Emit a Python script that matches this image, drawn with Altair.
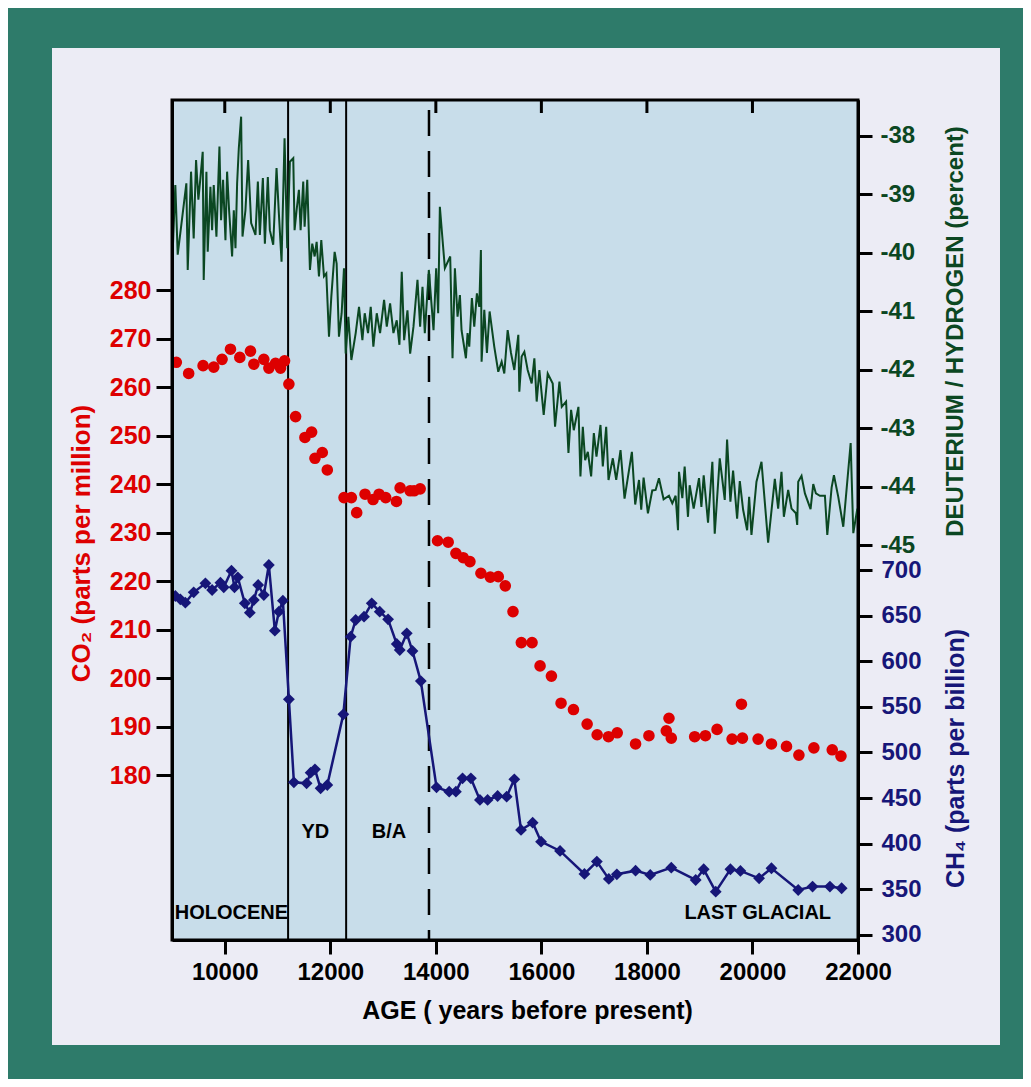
import altair as alt
import pandas as pd

# ---------------- data ----------------
deut_years = [9019, 9063, 9108, 9272, 9298, 9361, 9411, 9456, 9500, 9538, 9582, 9601, 9652, 9677, 9728, 9760,
              9791, 9842, 9899, 9930, 9968, 10013, 10044, 10082, 10139, 10171, 10203, 10234, 10266, 10310, 10336,
              10392, 10443, 10500, 10582, 10627, 10665, 10722, 10760, 10816, 10854, 10918, 10981, 11025, 11076,
              11133, 11184, 11234, 11298, 11323, 11361, 11405, 11437, 11487, 11513, 11563, 11614, 11658, 11703,
              11741, 11785, 11829, 11880, 11924, 11975, 12019, 12082, 12120, 12164, 12215, 12259, 12291, 12342,
              12399, 12481, 12544, 12608, 12652, 12715, 12766, 12816, 12880, 12943, 13019, 13070, 13133, 13196,
              13259, 13310, 13354, 13399, 13462, 13513, 13576, 13652, 13702, 13747, 13791, 13867, 13956, 14006,
              14044, 14076, 14171, 14272, 14316, 14361, 14411, 14456, 14487, 14570, 14601, 14633, 14683, 14728,
              14778, 14823, 14854, 14867, 14918, 14968, 15019, 15107, 15183, 15247, 15297, 15361, 15424, 15487,
              15525, 15563, 15582, 15626, 15677, 15740, 15816, 15867, 15911, 15962, 16044, 16120, 16215, 16259,
              16342, 16386, 16468, 16513, 16563, 16614, 16702, 16740, 16785, 16829, 16880, 16943, 16994, 17044,
              17120, 17164, 17228, 17272, 17354, 17418, 17500, 17576, 17715, 17778, 17850, 17892, 17937, 18019,
              18101, 18165, 18228, 18316, 18418, 18481, 18544, 18589, 18608, 18671, 18715, 18778, 18810, 18886,
              18987, 19032, 19076, 19158, 19240, 19285, 19380, 19475, 19519, 19582, 19633, 19709, 19760, 19823,
              19899, 19937, 19981, 20076, 20171, 20297, 20424, 20487, 20550, 20595, 20677, 20740, 20823, 20848,
              20867, 20930, 20994, 21101, 21152, 21202, 21278, 21373, 21418, 21500, 21544, 21626, 21721, 21861,
              21911, 21987]
deut_values = [-39.84, -38.84, -40.03, -38.81, -40.29, -38.61, -39.75, -38.41, -39.09, -38.72, -38.27, -40.46,
               -38.61, -39.98, -38.87, -39.61, -38.84, -39.72, -38.18, -39.44, -38.75, -39.78, -38.61, -39.27,
               -40.06, -39.27, -39.92, -38.81, -38.21, -37.67, -39.72, -39.27, -38.41, -39.49, -39.69, -38.78,
               -39.69, -38.72, -39.84, -38.70, -39.61, -39.86, -38.55, -39.32, -40.15, -38.04, -39.92, -38.44,
               -38.38, -39.61, -39.27, -38.92, -39.61, -38.78, -39.55, -38.75, -40.29, -39.84, -40.06, -39.81,
               -40.40, -39.78, -40.40, -40.35, -41.43, -40.75, -39.98, -40.18, -41.43, -41.03, -40.26, -41.72,
               -41.09, -41.83, -41.37, -40.92, -41.49, -41.03, -41.37, -40.92, -41.60, -41.03, -41.37, -40.80,
               -41.26, -40.86, -41.37, -41.15, -41.57, -40.32, -41.49, -40.98, -41.72, -41.26, -40.46, -41.26,
               -40.58, -41.37, -40.29, -41.32, -40.26, -41.03, -39.21, -40.26, -40.06, -41.80, -40.26, -41.09,
               -40.72, -41.32, -41.80, -41.37, -41.60, -40.77, -41.26, -40.69, -40.92, -39.95, -41.86, -40.97,
               -41.71, -41.00, -41.60, -42.03, -41.86, -42.06, -41.32, -41.71, -42.00, -41.69, -41.40, -42.37,
               -41.77, -41.69, -42.00, -42.23, -41.80, -42.54, -42.00, -42.77, -42.06, -42.23, -42.97, -42.20,
               -42.63, -42.54, -43.42, -42.68, -43.03, -42.63, -43.82, -42.97, -43.54, -43.40, -43.82, -43.08,
               -43.48, -42.94, -43.65, -42.97, -43.88, -43.51, -43.88, -43.37, -44.20, -43.40, -44.30, -43.88,
               -44.39, -43.84, -44.45, -44.06, -44.05, -43.85, -44.21, -44.15, -44.28, -44.15, -44.74, -43.74,
               -44.19, -43.65, -44.51, -43.97, -44.37, -43.85, -44.34, -43.80, -44.61, -43.57, -44.80, -43.51,
               -44.22, -43.19, -44.25, -43.72, -44.54, -43.90, -44.39, -44.74, -44.17, -44.82, -43.91, -43.57,
               -44.95, -43.86, -44.37, -43.74, -44.51, -44.05, -44.37, -44.45, -44.65, -43.91, -43.81, -44.11,
               -44.38, -43.95, -44.11, -44.15, -44.15, -44.82, -44.01, -43.80, -44.17, -44.68, -43.25, -44.79,
               -44.37]

co2_years = [9082, 9316, 9589, 9791, 9949, 10108, 10285, 10487, 10551, 10740, 10836, 10962, 11057, 11133, 11215,
             11342, 11519, 11646, 11709, 11848, 11943, 12260, 12399, 12500, 12658, 12810, 12924, 13050, 13253,
             13323, 13513, 13589, 13703, 14032, 14234, 14380, 14519, 14646, 14854, 15032, 15183, 15316, 15462,
             15620, 15823, 15975, 16190, 16373, 16608, 16867, 17057, 17272, 17437, 17785, 18038, 18367, 18418,
             18462, 18905, 19108, 19329, 19614, 19791, 19810, 20107, 20360, 20645, 20880, 21164, 21512, 21677]
co2_values = [265.1, 262.8, 264.4, 264.1, 265.7, 267.8, 266.1, 267.4, 264.7, 265.7, 263.9, 264.9, 263.9, 265.4,
              260.6, 253.9, 249.6, 250.7, 245.3, 246.5, 242.9, 237.2, 237.2, 234.1, 237.9, 236.8, 237.9, 237.2,
              236.4, 239.2, 238.6, 238.6, 239.0, 228.3, 228.0, 225.7, 224.8, 224.0, 221.6, 220.8, 220.9, 219.0,
              213.7, 207.3, 207.3, 202.5, 200.4, 194.8, 193.5, 190.5, 188.3, 187.9, 188.7, 186.4, 188.1, 189.1,
              191.7, 187.6, 187.9, 188.1, 189.4, 187.4, 194.6, 187.6, 187.4, 186.4, 185.9, 184.1, 185.6, 185.2,
              183.9]

ch4_years = [9063, 9158, 9253, 9411, 9633, 9760, 9918, 9981, 10127, 10184, 10247, 10380, 10475, 10551, 10633,
             10740, 10835, 10949, 11025, 11101, 11215, 11310, 11551, 11627, 11709, 11816, 11943, 12247, 12386,
             12481, 12639, 12785, 12937, 13095, 13259, 13316, 13449, 13557, 13715, 14013, 14253, 14380, 14506,
             14664, 14835, 14981, 15171, 15342, 15487, 15614, 15835, 15994, 16354, 16816, 17051, 17278, 17430,
             17785, 18063, 18462, 18924, 19076, 19304, 19582, 19772, 20126, 20360, 20867, 21139, 21468, 21690]
ch4_values = [671.5, 667.9, 664.2, 675.5, 685.4, 678.1, 686.1, 681.0, 699.3, 681.0, 692.0, 663.5, 653.2, 667.1,
              683.6, 672.6, 705.5, 633.5, 654.3, 666.4, 558.3, 467.3, 466.2, 477.9, 481.5, 460.7, 464.4, 541.8,
              626.9, 645.2, 648.9, 663.5, 654.3, 645.9, 618.9, 612.3, 630.6, 611.2, 578.3, 461.8, 457.1, 457.1,
              471.7, 471.7, 448.0, 448.0, 452.3, 451.6, 470.6, 415.1, 423.1, 402.3, 392.1, 366.9, 380.4, 361.4,
              366.5, 370.5, 365.8, 373.8, 360.3, 372.0, 347.5, 372.0, 370.2, 362.1, 373.1, 349.3, 353.0, 353.0,
              351.2]

solid_boundaries = [11200, 12300]
dashed_boundaries = [13870]
x_ticks = [10000, 12000, 14000, 16000, 18000, 20000, 22000]
co2_ticks = [180, 190, 200, 210, 220, 230, 240, 250, 260, 270, 280]
deut_ticks = [-38, -39, -40, -41, -42, -43, -44, -45]
ch4_ticks = [300, 350, 400, 450, 500, 550, 600, 650, 700]

period_labels = ["HOLOCENE", "LAST GLACIAL"]
period_years = [9051, 18710]
event_labels = ["YD", "B/A"]
event_years = [11715, 13114]

# ---------------- styling ----------------
W, H = 686, 840
FONT = "Liberation Sans"
RED = "#dd0000"
GREEN = "#0b4722"
NAVY = "#161678"
TEAL = "#2e7b6a"
LAVENDER = "#ececf5"
PLOTBG = "#c8ddea"

xscale = alt.Scale(domain=[9000, 22000], nice=False, zero=False)
xaxis = alt.Axis(orient="bottom", values=x_ticks, format="d", grid=False, zindex=1,
                 domain=True, domainColor="black", domainWidth=3,
                 ticks=True, tickColor="black", tickWidth=3, tickSize=14,
                 labelFont=FONT, labelFontSize=24, labelFontWeight="bold", labelColor="black",
                 labelPadding=6, labelOverlap=False, labelFlush=False,
                 title="AGE ( years before present)", titleFont=FONT, titleFontSize=25,
                 titleFontWeight="bold", titleColor="black", titleX=355, titleY=78,
                 titleBaseline="alphabetic", titleAlign="center")
X = alt.X("year:Q", scale=xscale, axis=xaxis)

one = pd.DataFrame({"a": [0]})

panel = alt.Chart(one).mark_rect(fill=LAVENDER).encode(
    x=alt.value(-120), x2=alt.value(828), y=alt.value(-52), y2=alt.value(945))
plotbg = alt.Chart(one).mark_rect(fill=PLOTBG, stroke="black", strokeWidth=3).encode(
    x=alt.value(0), x2=alt.value(W), y=alt.value(0), y2=alt.value(H))

solid = alt.Chart(pd.DataFrame({"year": solid_boundaries})).mark_rule(
    color="black", strokeWidth=2).encode(x=X)
dashed = alt.Chart(pd.DataFrame({"year": dashed_boundaries})).mark_rule(
    color="black", strokeWidth=2.5, strokeDash=[26, 15], strokeDashOffset=-10).encode(x=X)
topticks = alt.Chart(pd.DataFrame({"year": x_ticks[:-1]})).mark_rule(
    color="black", strokeWidth=3).encode(x=X, y=alt.value(0), y2=alt.value(13))

deut_df = pd.DataFrame({"year": deut_years, "dd": deut_values})
deut = alt.Chart(deut_df).mark_line(color=GREEN, strokeWidth=2, clip=True).encode(
    x=X,
    y=alt.Y("dd:Q", scale=alt.Scale(domain=[-51.744, -37.385], nice=False, zero=False),
            axis=alt.Axis(orient="right", values=deut_ticks, grid=False, zindex=1,
                          labelExpr="'-' + abs(datum.value)",
                          domain=True, domainColor="black", domainWidth=3,
                          tickColor="black", tickWidth=3, tickSize=14,
                          labelFont=FONT, labelFontSize=24, labelFontWeight="bold",
                          labelColor=GREEN, labelPadding=8, labelOverlap=False, labelFlush=False,
                          labelBaseline="middle",
                          title="DEUTERIUM / HYDROGEN (percent)", titleFont=FONT, titleFontSize=24,
                          titleFontWeight="bold", titleColor=GREEN, titleAngle=270,
                          titleX=97, titleY=231, titleAlign="center", titleBaseline="middle")))

co2_df = pd.DataFrame({"year": co2_years, "co2": co2_values})
co2 = alt.Chart(co2_df).mark_circle(color=RED, size=135, opacity=1, clip=True).encode(
    x=X,
    y=alt.Y("co2:Q", scale=alt.Scale(domain=[145.98, 319.18], nice=False, zero=False),
            axis=alt.Axis(orient="left", values=co2_ticks, grid=False, zindex=1,
                          domain=True, domainColor="black", domainWidth=3,
                          tickColor="black", tickWidth=3, tickSize=16,
                          labelFont=FONT, labelFontSize=25, labelFontWeight="bold",
                          labelColor=RED, labelPadding=5, labelOverlap=False, labelFlush=False,
                          title="CO₂ (parts per million)", titleFont=FONT, titleFontSize=26,
                          titleFontWeight="bold", titleColor=RED, titleAngle=270,
                          titleX=-91, titleY=443, titleAlign="center", titleBaseline="middle")))

ch4_df = pd.DataFrame({"year": ch4_years, "ch4": ch4_values})
ch4 = alt.Chart(ch4_df).mark_line(
    color=NAVY, strokeWidth=2.5, clip=True,
    point=alt.OverlayMarkDef(shape="diamond", size=140, filled=True, color=NAVY, opacity=1)
).encode(
    x=X,
    y=alt.Y("ch4:Q", scale=alt.Scale(domain=[294.5, 1215.1], nice=False, zero=False),
            axis=alt.Axis(orient="right", values=ch4_ticks, grid=False, zindex=1,
                          domain=True, domainColor="black", domainWidth=3,
                          tickColor="black", tickWidth=3, tickSize=14,
                          labelFont=FONT, labelFontSize=24, labelFontWeight="bold",
                          labelColor=NAVY, labelPadding=9, labelOverlap=False, labelFlush=False,
                          labelBaseline="middle",
                          title="CH₄ (parts per billion)", titleFont=FONT, titleFontSize=25,
                          titleFontWeight="bold", titleColor=NAVY, titleAngle=270,
                          titleX=97, titleY=658, titleAlign="center", titleBaseline="middle")))

periods = alt.Chart(pd.DataFrame({"year": period_years, "label": period_labels})).mark_text(
    font=FONT, fontSize=20, fontWeight="bold", color="black", align="left", baseline="alphabetic"
).encode(x=X, y=alt.value(819), text="label:N")
events = alt.Chart(pd.DataFrame({"year": event_years, "label": event_labels})).mark_text(
    font=FONT, fontSize=20, fontWeight="bold", color="black", align="center", baseline="alphabetic"
).encode(x=X, y=alt.value(738), text="label:N")

chart = alt.layer(
    panel, plotbg, solid, dashed, topticks, deut, co2, ch4, periods, events
).resolve_scale(y="independent").properties(
    width=W, height=H,
    padding={"left": 164, "top": 92, "right": 165, "bottom": 139},
    autosize="none",
    background=TEAL,
).configure_view(stroke=None)

chart.save("out.html", embed_options={"renderer": "svg", "actions": False})
